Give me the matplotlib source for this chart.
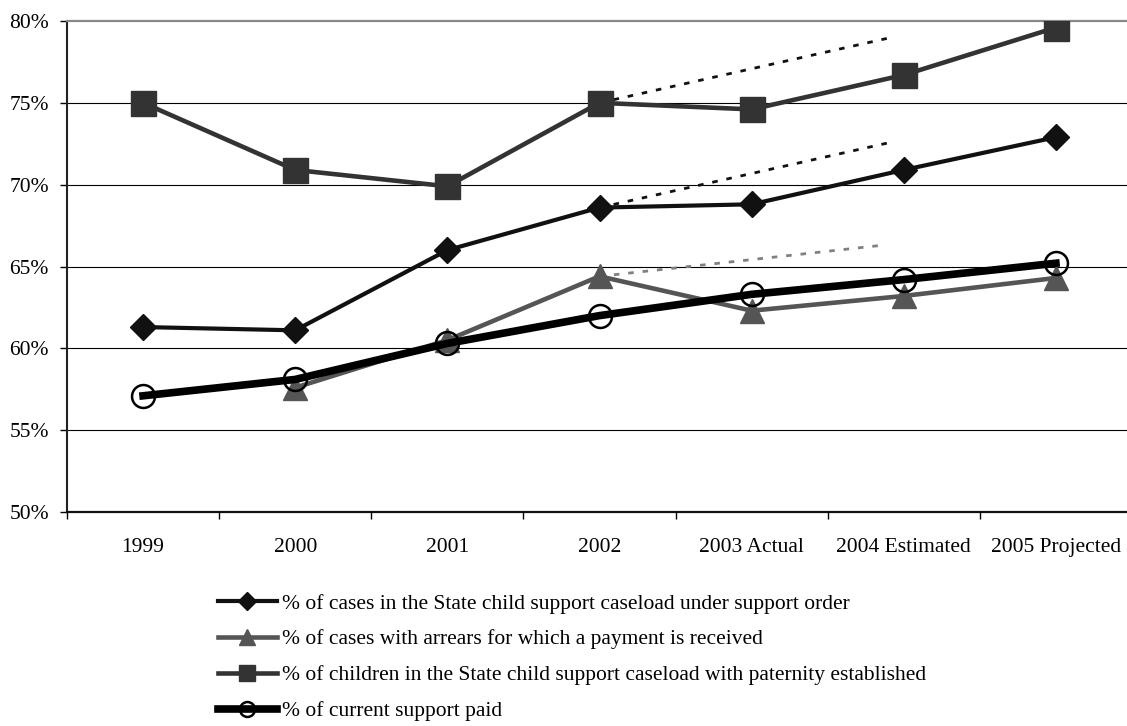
import matplotlib
matplotlib.use("Agg")
import matplotlib.pyplot as plt
from matplotlib.ticker import FixedLocator, PercentFormatter

categories = ["1999", "2000", "2001", "2002", "2003 Actual", "2004 Estimated", "2005 Projected"]
under_order = [61.3, 61.1, 66.0, 68.6, 68.8, 70.9, 72.9]
arrears_paid = [None, 57.6, 60.5, 64.4, 62.3, 63.2, 64.3]
paternity = [75.0, 70.9, 69.9, 75.0, 74.6, 76.7, 79.6]
current_paid = [57.1, 58.1, 60.3, 62.0, 63.3, 64.2, 65.2]

# target (dotted) lines from 2002 to 2004
target_idx = [3, 5]
paternity_target = [75.0, 79.0]
under_order_target = [68.6, 72.6]
arrears_target = [64.4, 66.3]

labels = [
    "% of cases in the State child support caseload under support order",
    "% of cases with arrears for which a payment is received",
    "% of children in the State child support caseload with paternity established",
    "% of current support paid",
]

plt.rcParams['font.family'] = ['Liberation Serif', 'DejaVu Serif']
FS = 15.5

fig = plt.figure(figsize=(11.27, 7.26), dpi=100)
ax = fig.add_axes([67/1127, 1 - 512/726, (1132 - 67)/1127, (512 - 21)/726])

x = list(range(len(categories)))
xa = [i for i, v in zip(x, arrears_paid) if v is not None]
ya = [v for v in arrears_paid if v is not None]

# dotted targets
dots = (0, (2.0, 3.2))
ax.plot([target_idx[0], target_idx[1] - 0.08], paternity_target, color='#111111', lw=2, ls=dots, zorder=2)
ax.plot([target_idx[0], target_idx[1] - 0.08], under_order_target, color='#111111', lw=2, ls=dots, zorder=2)
ax.plot([target_idx[0], target_idx[1] - 0.14], arrears_target, color='#808080', lw=2, ls=dots, zorder=2)

h1, = ax.plot(x, under_order, color='#111111', lw=3, marker='D', markersize=13.5,
              markerfacecolor='#111111', markeredgecolor='#111111', zorder=3, label=labels[0])
h2, = ax.plot(xa, ya, color='#555555', lw=3.3, marker='^', markersize=17,
              markerfacecolor='#555555', markeredgecolor='#555555', zorder=4, label=labels[1])
h3, = ax.plot(x, paternity, color='#333333', lw=3.3, marker='s', markersize=18,
              markerfacecolor='#333333', markeredgecolor='#333333', zorder=5, label=labels[2])
h4, = ax.plot(x, current_paid, color='#000000', lw=5.5, marker='o', markersize=16.5,
              markerfacecolor='none', markeredgecolor='#000000', markeredgewidth=1.8,
              zorder=6, label=labels[3])

ax.set_xlim(-0.5, len(categories) - 0.5)
ax.set_ylim(50, 80)
ax.set_yticks([50, 55, 60, 65, 70, 75, 80])
ax.yaxis.set_major_formatter(PercentFormatter(decimals=0))
ax.set_xticks(x)
ax.set_xticklabels(categories)
ax.xaxis.set_minor_locator(FixedLocator([i - 0.5 for i in range(len(categories))]))
ax.tick_params(axis='x', which='major', length=0, pad=19, labelsize=FS)
ax.tick_params(axis='x', which='minor', length=5, width=1, direction='out', color='#000000')
ax.tick_params(axis='y', length=5, width=1, direction='out', pad=8, labelsize=FS)

for yv in [55, 60, 65, 70, 75]:
    ax.axhline(yv, color='#000000', lw=0.8, zorder=1)

ax.spines['right'].set_visible(False)
ax.spines['top'].set_color('#888888')
ax.spines['top'].set_linewidth(1.6)
ax.spines['left'].set_color('#222222')
ax.spines['left'].set_linewidth(1.5)
ax.spines['bottom'].set_color('#111111')
ax.spines['bottom'].set_linewidth(1.6)

leg = fig.legend(handles=[h1, h2, h3, h4], loc='upper left',
                 bbox_to_anchor=(209/1127, 1 - 585/726), frameon=False,
                 fontsize=FS, handlelength=2.75, handletextpad=0.25,
                 labelspacing=0.73, markerscale=0.65, borderaxespad=0)

fig.savefig("out.png", dpi=100)
